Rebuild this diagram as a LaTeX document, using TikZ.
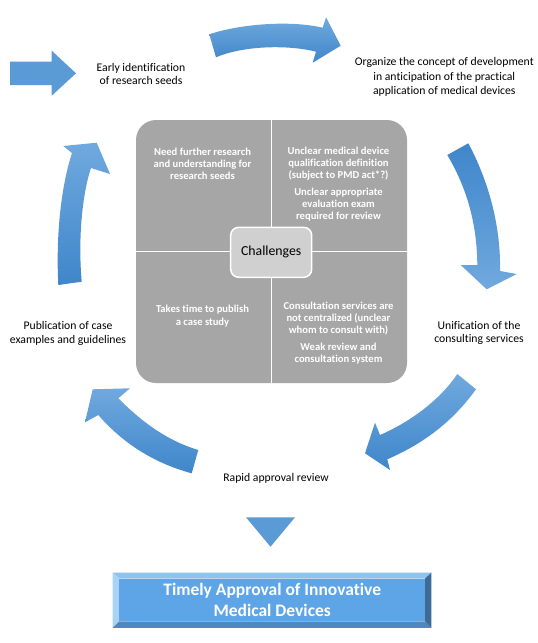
\documentclass[tikz,border=0pt]{standalone}
\usepackage{fontspec}
\setmainfont{Carlito}[Ligatures=NoCommon]
\definecolor{alight}{HTML}{70A9DE}
\definecolor{adark}{HTML}{3F86CA}
\definecolor{amid}{HTML}{5B9BD5}
\definecolor{greybox}{HTML}{A6A6A6}
\definecolor{chalfill}{HTML}{D0D0D0}
\definecolor{face}{HTML}{5EA5E7}
\definecolor{bevtop}{HTML}{8EC2EF}
\definecolor{bevleft}{HTML}{A9D3F5}
\definecolor{bevright}{HTML}{3E6B96}
\definecolor{bevbot}{HTML}{4F88C0}
\tikzset{
  lbl/.style={align=center, inner sep=0pt, text=black, font=\fontsize{11.7}{13.6}\selectfont},
  quad/.style={align=center, inner sep=0pt, text=white, font=\fontsize{10.6}{12.3}\selectfont\bfseries},
  chal/.style={draw=white, line width=1.5pt, fill=chalfill, rounded corners=8pt, minimum width=81pt, minimum height=50pt, inner sep=0pt, font=\fontsize{13.8}{16}\selectfont},
  goaltext/.style={align=center, inner sep=0pt, text=white, font=\fontsize{17.5}{20.7}\selectfont\bfseries},
}
\begin{document}
\begin{tikzpicture}[x=1pt,y=-1pt]
\useasboundingbox (0,0) rectangle (538,643);
\fill[white] (0,0) rectangle (538,643);

% central grey square
\fill[greybox, rounded corners=20pt] (136,120) rectangle (407,383);
\draw[white, line width=1pt] (271.7,120) -- (271.7,383);
\draw[white, line width=1pt] (136,251.7) -- (407,251.7);
\node[chal] (chal) at (271.2,252.3) {Challenges};

% quadrant texts
\node[quad] (q1) at (202.5,163.7) {Need further research\\and understanding for\\research seeds};
\node[quad] (q2) at (338.5,184.2) {Unclear medical device\\qualification definition\\(subject to PMD act*?)\\[4pt]Unclear appropriate\\evaluation exam\\required for review};
\node[quad] (q3) at (202.5,316) {Takes time to publish\\a case study};
\node[quad] (q4) at (338.5,333) {Consultation services are\\not centralized (unclear\\whom to consult with)\\[4pt]Weak review and\\consultation system};

% straight input arrow
\fill[amid] (10,61.7) -- (51.7,61.7) -- (51.7,50.7) -- (76,73.3) -- (51.7,95.7) -- (51.7,85) -- (10,85) -- cycle;

% top curved arrow
\shade[top color=alight, bottom color=adark]
  (209.3,34.3) .. controls (240,24) and (290,20) .. (322.7,27.7)
  -- (326,17.3) -- (340.7,45.7) -- (312.7,62.7) -- (316,51.7)
  .. controls (290,45) and (245,45) .. (216,57.3) -- cycle;

% right curved arrow
\shade[top color=adark, bottom color=alight]
  (468.3,143.3) .. controls (488,180) and (501,225) .. (500,271)
  -- (516.7,274) -- (486.7,289.3) -- (460.7,265) -- (477.3,265)
  .. controls (477,220) and (465,185) .. (447.3,155) -- cycle;

% lower right curved arrow
\shade[top color=alight, bottom color=adark]
  (457.3,374) -- (476,389.3) .. controls (450,425) and (420,445) .. (387.3,459.3)
  -- (390,470) -- (365,453.3) -- (375,422.7) -- (380,435)
  .. controls (410,422) and (440,400) .. (457.3,374) -- cycle;

% lower left curved arrow
\shade[top color=alight, bottom color=adark]
  (130,388.3) -- (118.3,398.3) .. controls (140,420) and (165,440) .. (198.3,450)
  -- (191.7,473.3) .. controls (150,462) and (120,440) .. (98.3,415)
  -- (85,422.3) -- (92.7,389.3) -- cycle;

% left upward curved arrow
\shade[top color=alight, bottom color=adark]
  (58.3,285) -- (81.7,281.7) .. controls (78,240) and (82,195) .. (91,168)
  -- (110,174) -- (96.7,142.7) -- (63.3,146) -- (72,153)
  .. controls (60,190) and (56,240) .. (58.3,285) -- cycle;

% labels
\node[lbl] (early) at (141,74) {Early identification\\of research seeds};
\node[lbl, font=\fontsize{11.7}{14.2}\selectfont] (organize) at (444.3,77) {Organize the concept of development\\in anticipation of the practical\\application of medical devices};
\node[lbl] (unify) at (479,333) {Unification of the\\consulting services};
\node[lbl] (rapid) at (276,478.3) {Rapid approval review};
\node[lbl] (publish) at (68,333.5) {Publication of case\\examples and guidelines};

% down triangle
\fill[amid] (246,517.3) -- (295,517.3) -- (270.5,546.7) -- cycle;

% bevelled goal box
\fill[bevtop] (112.7,572.7) -- (431.3,572.7) -- (425,578.5) -- (119.3,578.5) -- cycle;
\fill[bevleft] (112.7,572.7) -- (119.3,578.5) -- (119.3,621.3) -- (112.7,627.9) -- cycle;
\fill[bevright] (431.3,572.7) -- (431.3,627.9) -- (425,621.3) -- (425,578.5) -- cycle;
\fill[bevbot] (112.7,627.9) -- (119.3,621.3) -- (425,621.3) -- (431.3,627.9) -- cycle;
\fill[face] (119.3,578.5) rectangle (425,621.3);
\node[goaltext] (goal) at (272.2,599.7) {Timely Approval of Innovative\\Medical Devices};
\end{tikzpicture}
\end{document}
